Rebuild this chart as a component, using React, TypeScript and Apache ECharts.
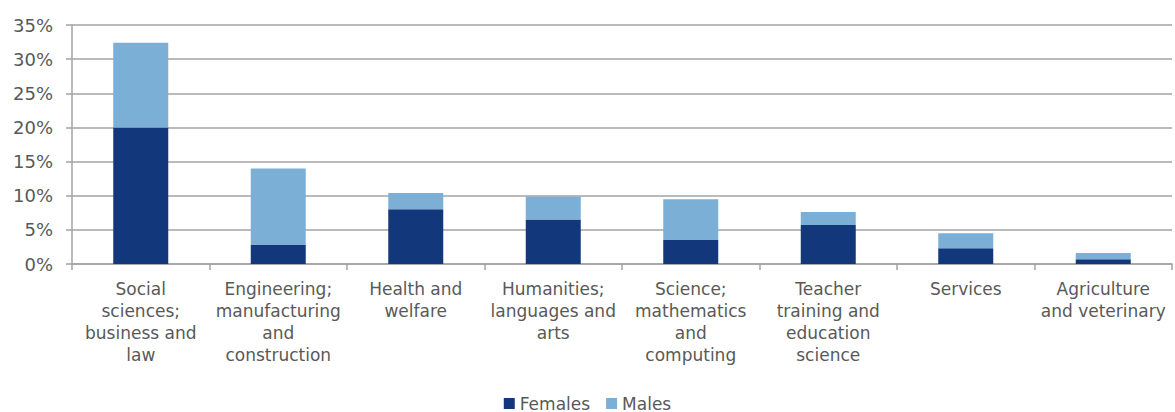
import React, { useEffect, useRef } from "react";
import * as echarts from "echarts";

const categories = [
  "Social\nsciences;\nbusiness and\nlaw",
  "Engineering;\nmanufacturing\nand\nconstruction",
  "Health and\nwelfare",
  "Humanities;\nlanguages and\narts",
  "Science;\nmathematics\nand\ncomputing",
  "Teacher\ntraining and\neducation\nscience",
  "Services",
  "Agriculture\nand veterinary",
];
const females = [20.0, 2.8, 8.0, 6.5, 3.5, 5.7, 2.3, 0.7];
const males = [12.4, 11.2, 2.4, 3.4, 6.0, 1.9, 2.2, 0.9];

const FONT = "DejaVu Sans, Verdana, sans-serif";
const TEXT = "#595959";
const GRID = "#A3A3A3";

export default function App() {
  const ref = useRef<HTMLDivElement>(null);
  useEffect(() => {
    document.body.style.margin = "0";
    const chart = echarts.init(ref.current!, null, { renderer: "svg" });
    chart.setOption({
      animation: false,
      textStyle: { fontFamily: FONT },
      grid: { left: 72, right: 3, top: 25, bottom: 148, containLabel: false },
      legend: {
        bottom: 0,
        padding: 0,
        left: "center",
        icon: "rect",
        itemWidth: 11,
        itemHeight: 11,
        itemGap: 16,
        textStyle: { color: TEXT, fontSize: 17, fontFamily: FONT },
        data: ["Females", "Males"],
      },
      xAxis: {
        type: "category",
        data: categories,
        axisLine: { lineStyle: { color: GRID, width: 1.5 } },
        axisTick: { show: true, length: 6, lineStyle: { color: GRID, width: 1.5 } },
        axisLabel: {
          color: TEXT,
          fontSize: 17,
          fontFamily: FONT,
          lineHeight: 22,
          margin: 14,
          interval: 0,
          align: "center",
        },
      },
      yAxis: {
        type: "value",
        min: 0,
        max: 35,
        interval: 5,
        axisLine: { show: true, lineStyle: { color: GRID, width: 1.5 } },
        axisTick: { show: true, length: 6, lineStyle: { color: GRID, width: 1.5 } },
        splitLine: { show: true, lineStyle: { color: GRID, width: 1.5 } },
        axisLabel: {
          color: TEXT,
          fontSize: 18,
          fontFamily: FONT,
          margin: 19,
          formatter: "{value}%",
        },
      },
      series: [
        {
          name: "Females",
          type: "bar",
          stack: "total",
          data: females,
          barWidth: "40%",
          itemStyle: { color: "#12387B" },
        },
        {
          name: "Males",
          type: "bar",
          stack: "total",
          data: males,
          barWidth: "40%",
          itemStyle: { color: "#7BAFD5" },
        },
      ],
    });
    return () => chart.dispose();
  }, []);
  return <div ref={ref} style={{ width: 1175, height: 412 }} />;
}
